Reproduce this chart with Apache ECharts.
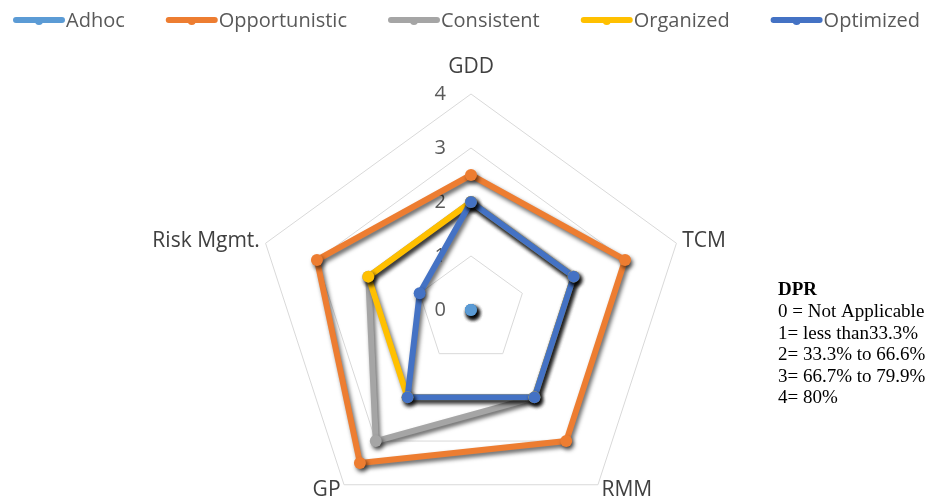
<!DOCTYPE html>
<html>
<head>
<meta charset="utf-8">
<title>DPR radar</title>
<script src="https://cdn.jsdelivr.net/npm/echarts@6/dist/echarts.min.js"></script>
<style>
  html, body { margin: 0; padding: 0; background: #fff; }
  #chart { width: 944px; height: 504px; }
</style>
</head>
<body>
<div id="chart"></div>
<script>
	// 数据 (axes in clockwise order from the top)
	const axes = ['GDD', 'TCM', 'RMM', 'GP', 'Risk Mgmt.'];
	const seriesNames = ['Adhoc', 'Opportunistic', 'Consistent', 'Organized', 'Optimized'];
	const adhoc = [0, 0, 0, 0, 0];
	const opportunistic = [2.5, 3, 3, 3.5, 3];
	const consistent = [2, 2, 2, 3, 2];
	const organized = [2, 2, 2, 2, 2];
	const optimized = [2, 2, 2, 2, 1];
	const colors = ['#5B9BD5', '#ED7D31', '#A5A5A5', '#FFC000', '#4472C4'];
	const dprLines = ['0 = Not Applicable', '1= less than33.3%', '2= 33.3% to 66.6%', '3= 66.7% to 79.9%', '4= 80%'];

	const chart = echarts.init(document.getElementById('chart'));

	const allData = [adhoc, opportunistic, consistent, organized, optimized];
	// echarts radar runs counter-clockwise, so reorder to keep the picture clockwise
	const order = [0, 4, 3, 2, 1];
	const reorder = arr => order.map(k => arr[k]);

	// 图例图标：粗线 + 圆点
	const legendIcon = 'path://M3,4 L49,4 A3,3 0 0 1 49,10 L3,10 A3,3 0 0 1 3,4 Z M22,8 a4,4 0 1,1 8,0 a4,4 0 1,1 -8,0 Z';

	const option = {
		animation: false,
		color: colors,
		legend: {
			data: seriesNames.map(n => ({ name: n, icon: legendIcon })),
			left: 8,
			top: 6,
			itemWidth: 52,
			itemHeight: 14,
			itemGap: 41,
			textStyle: {
				fontFamily: 'Open Sans',
				fontSize: 20,
				color: '#595959',
				padding: [0, 0, 0, -4]
			}
		},
		radar: {
			center: [471, 310],
			radius: 216,
			startAngle: 90,
			splitNumber: 4,
			shape: 'polygon',
			indicator: reorder(axes).map((name, i) => {
				const ind = { name: name, min: 0, max: 4 };
				if (i === 0) {
					ind.nameGap = 16;
					ind.axisLabel = {
						show: true,
						margin: 25,
						fontSize: 20,
						fontFamily: 'Open Sans',
						color: '#595959'
					};
				}
				return ind;
			}),
			axisName: {
				color: '#404040',
				fontSize: 21,
				fontFamily: 'Open Sans'
			},
			nameGap: 6,
			axisLine: { show: false },
			axisTick: { show: false },
			axisLabel: { show: false },
			splitArea: { show: false },
			splitLine: {
				lineStyle: { color: '#D9D9D9', width: 1 }
			}
		},
		graphic: [
			{
				type: 'group',
				left: 778,
				top: 281,
				children: [
					{ type: 'text', x: 0, y: 0, style: { text: 'DPR', font: 'bold 19px "Liberation Serif"', fill: '#000' } }
				].concat(dprLines.map((t, i) => ({
					type: 'text', x: 0, y: 22 + i * 21.5,
					style: { text: t, font: '19px "Liberation Serif"', fill: '#000' }
				})))
			}
		],
		series: seriesNames.map((name, i) => ({
			name: name,
			type: 'radar',
			symbol: 'circle',
			symbolSize: 12,
			lineStyle: {
				width: 6,
				color: colors[i],
				shadowColor: 'rgba(0,0,0,0.6)',
				shadowBlur: 4,
				shadowOffsetX: 2,
				shadowOffsetY: 3
			},
			itemStyle: {
				color: colors[i],
				shadowColor: 'rgba(0,0,0,0.6)',
				shadowBlur: 4,
				shadowOffsetX: 2,
				shadowOffsetY: 3
			},
			data: [{ value: reorder(allData[i]), name: name }]
		}))
	};

	chart.setOption(option);
</script>
</body>
</html>
